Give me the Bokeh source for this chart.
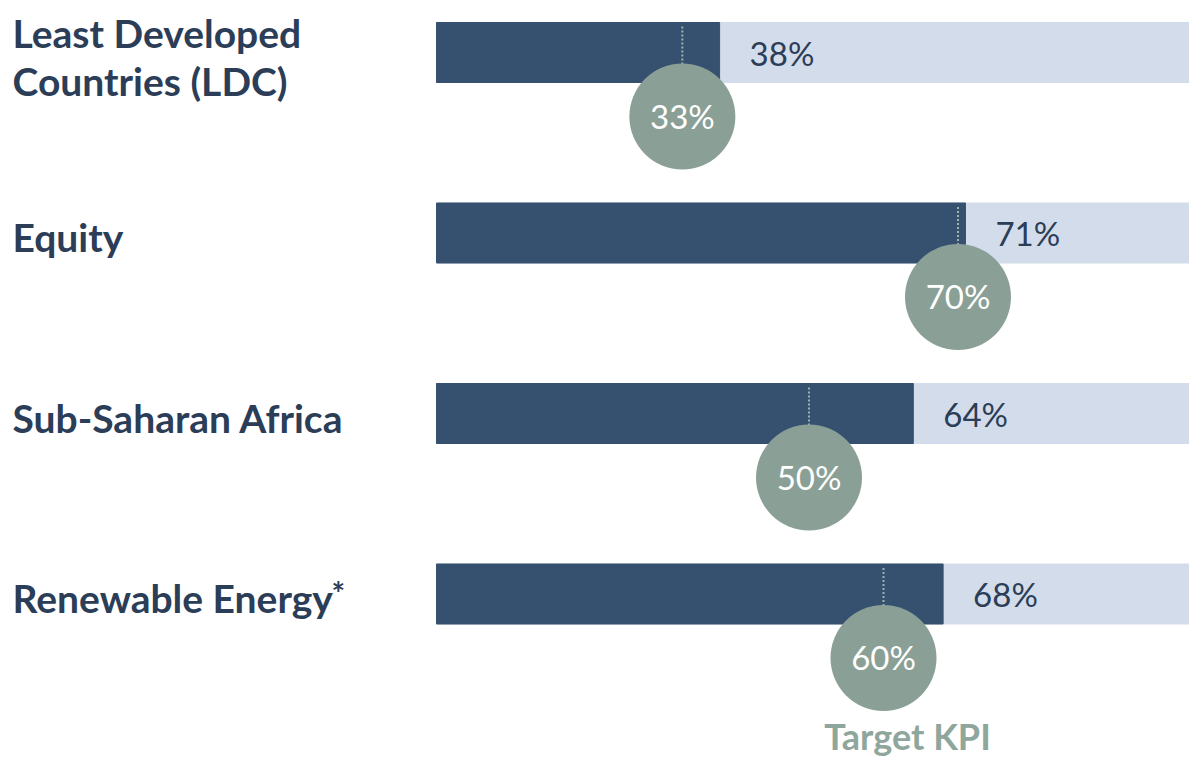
from bokeh.plotting import figure
from bokeh.models import Range1d, ColumnDataSource, Label
from bokeh.core.properties import value
from bokeh.embed import file_html
from bokeh.resources import INLINE

categories = ["Least Developed\nCountries (LDC)", "Equity", "Sub-Saharan Africa", "Renewable Energy"]
footnotes = ["", "", "", "*"]
values = [38, 71, 64, 68]
targets = [33, 70, 50, 60]
target_title = "Target KPI"

DARK = "#36506f"
LIGHT = "#d3dcea"
CIRCLE = "#8aa096"
TEXT = "#2b3d57"
KPI = "#8fa69c"
FONT = value("Lato")

W, H = 1189, 760
PX = 180.5          # pixels per row
XS = 7.45           # pixels per percent
X0 = 436            # pixel position of 0 %
TOP = 52            # pixel centre of first row
rows = list(range(len(categories)))

x_start = -X0 / XS
x_end = (W - X0) / XS
y_top = -TOP / PX
y_bottom = y_top + H / PX

src = ColumnDataSource(dict(
    y=rows,
    val=values,
    tgt=targets,
    val_lbl=[f"{v}%" for v in values],
    tgt_lbl=[f"{t}%" for t in targets],
    y_circle=[r + 64 / PX for r in rows],
    y_dot0=[r - 26 / PX for r in rows],
    y_dot1=[r + 12 / PX for r in rows],
))

# category labels, one glyph row per text line
lx, ly, lt = [], [], []
for r, cat in zip(rows, categories):
    lines = cat.split("\n")
    n = len(lines)
    for k, line in enumerate(lines):
        lx.append(x_start)
        ly.append(r + (4 + (k - (n - 1) / 2) * 48) / PX)
        lt.append(line)
lab_src = ColumnDataSource(dict(x=lx, y=ly, t=lt))

p = figure(width=W, height=H, output_backend="svg", toolbar_location=None,
           x_range=Range1d(x_start, x_end),
           y_range=Range1d(y_bottom, y_top),
           min_border=0, min_border_left=0, min_border_right=0,
           min_border_top=0, min_border_bottom=0)
p.axis.visible = False
p.grid.visible = False
p.outline_line_color = None
p.background_fill_color = "white"

bh = 60 / PX
p.hbar(y="y", left=0, right=x_end, height=bh, color=LIGHT, source=src)
p.hbar(y="y", left=0, right="val", height=bh, color=DARK, source=src)

p.segment(x0="tgt", x1="tgt", y0="y_dot0", y1="y_dot1", line_color="#9fb2a9",
          line_width=2, line_dash="2 2", source=src)
p.scatter(x="tgt", y="y_circle", size=106, marker="circle", fill_color=CIRCLE,
          line_color=None, source=src)
p.text(x="tgt", y="y_circle", text="tgt_lbl", y_offset=-1, text_align="center",
       text_baseline="middle", text_color="white", text_font=FONT,
       text_font_size="33px", source=src)

p.text(x="val", y="y", text="val_lbl", x_offset=30, text_align="left",
       text_baseline="middle", text_color=TEXT, text_font=FONT,
       text_font_size="33px", source=src)

p.text(x="x", y="y", text="t", x_offset=12, text_align="left",
       text_baseline="middle", text_color=TEXT, text_font=FONT,
       text_font_style="bold", text_font_size="39px", source=lab_src)

for r, note in zip(rows, footnotes):
    if note:
        p.add_layout(Label(x=331, x_units="screen", y=r - 1 / PX, text=note,
                           text_align="left", text_baseline="middle", text_color=TEXT,
                           text_font="Lato", text_font_style="bold", text_font_size="32px"))

p.add_layout(Label(x=(907 - X0) / XS, y=3 + 142 / PX, text=target_title, text_align="center",
                   text_baseline="middle", text_color=KPI, text_font="Lato",
                   text_font_style="bold", text_font_size="36px"))

open("out.html", "w").write(file_html(p, INLINE))
